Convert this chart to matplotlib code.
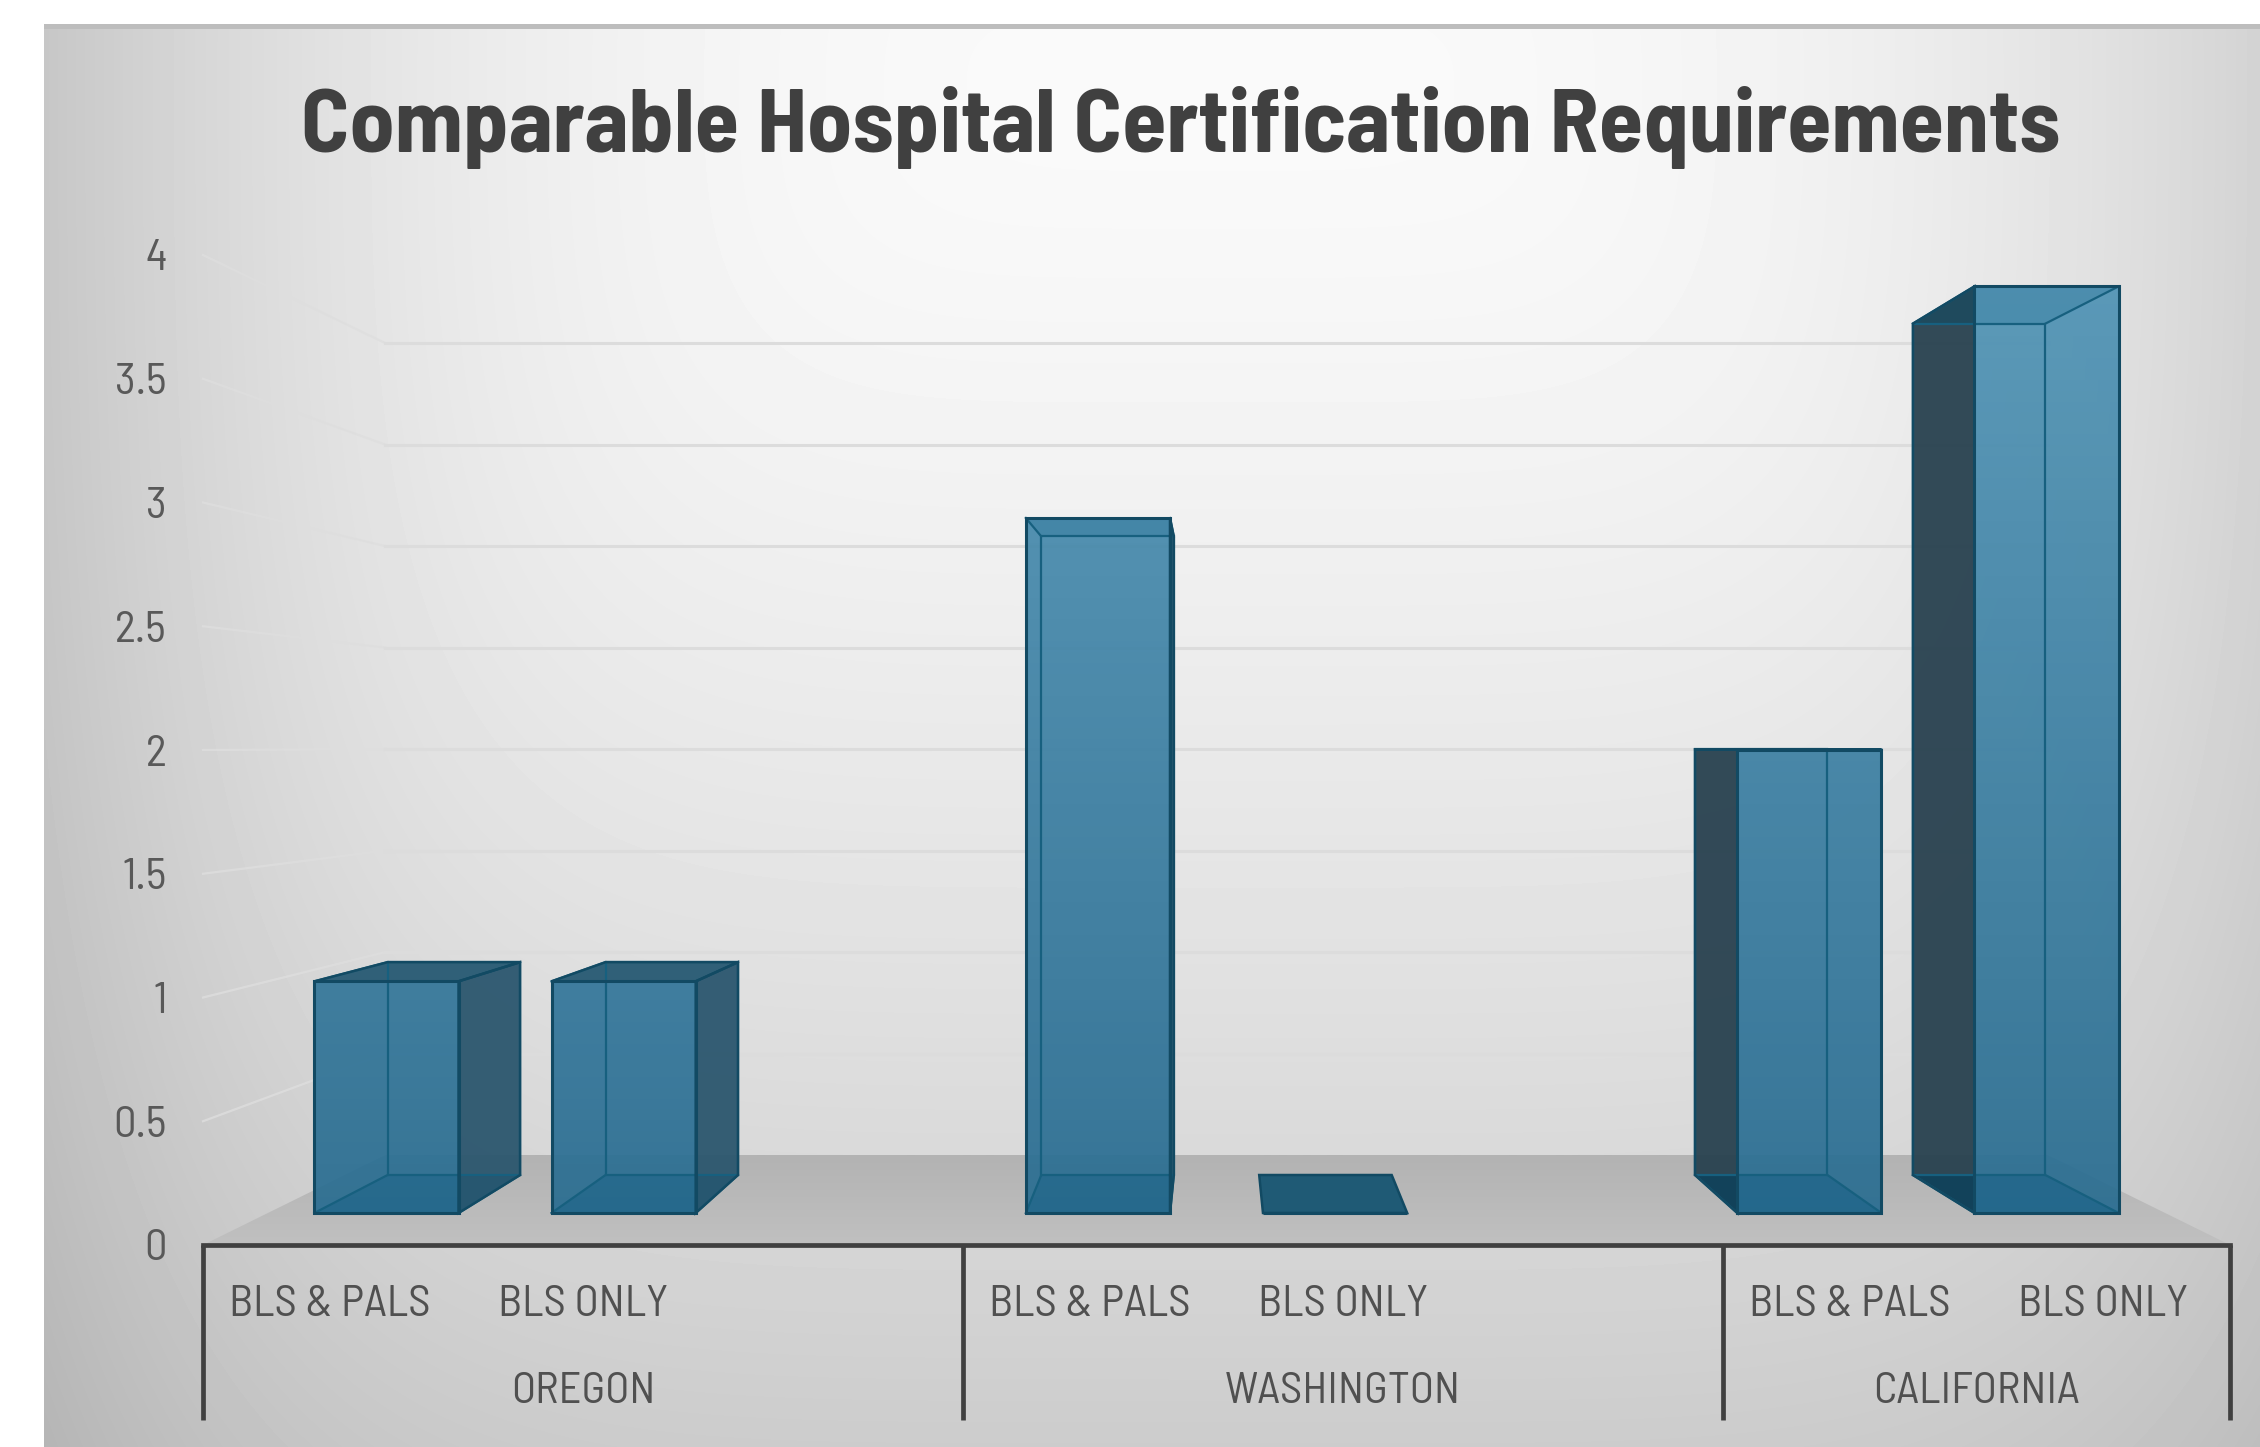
"""
Comparable hospital certification requirements, drawn as a 3D-look column chart
"""

import numpy as np
import matplotlib
matplotlib.use("Agg")
import matplotlib.pyplot as plt
from matplotlib.colors import LinearSegmentedColormap
from matplotlib.patches import Polygon

plt.rcParams["font.family"] = ["Barlow Semi Condensed", "Liberation Sans", "DejaVu Sans"]

title = "Comparable Hospital Certification Requirements"
groups = ["OREGON", "WASHINGTON", "CALIFORNIA"]
group_slots = [3, 3, 2]
categories = ["BLS & PALS", "BLS ONLY"]
values = [1, 1, 3, 0, 2, 4]
bar_slots = [0, 1, 3, 4, 6, 7]
y_ticks = [0, 0.5, 1, 1.5, 2, 2.5, 3, 3.5, 4]

W, H = 2260, 1447
eye_x, eye_y = 4.0, 2.02
wall_k = 0.82
front_k, back_k = 0.936, 0.86
half_w = 0.304


def project(x, v, k):
    # perspective towards the eye point, k=1 is the front of the floor
    return (eye_x + k * (x - eye_x), eye_y + k * (v - eye_y))


fig = plt.figure(figsize=(W / 100, H / 100), dpi=100, facecolor="white")

# slide background
bg = fig.add_axes([44 / W, 0, 1 - 44 / W, 1 - 24 / H], zorder=0)
yy, xx = np.mgrid[24:H, 44:W]
a = np.abs(xx - 1210) / 1186.0
b = np.abs(yy - 90) / 1357.0
shade = 0.98 - np.sqrt((0.21 * a ** 2.6) ** 2 + (0.18 * b ** 1.4) ** 2)
shade[:5, :] = 0.74
bg.imshow(shade, cmap="gray", vmin=0, vmax=1, aspect="auto", interpolation="bilinear")
bg.axis("off")

ax = fig.add_axes([203 / W, (H - 1245) / H, 2027 / W, 990 / H], zorder=1)
ax.patch.set_alpha(0)
n_slots = sum(group_slots)

# floor
floor_pts = [project(0, 0, 1), project(n_slots, 0, 1), project(n_slots, 0, wall_k), project(0, 0, wall_k)]
floor_cm = LinearSegmentedColormap.from_list("floor", ["#c0c0c0", "#b3b3b3"])
floor_im = ax.imshow(np.linspace(0, 1, 50).reshape(-1, 1), cmap=floor_cm, origin="lower",
                     extent=(0, n_slots, 0, project(0, 0, wall_k)[1]), aspect="auto", zorder=1)
floor_im.set_clip_path(Polygon(floor_pts, transform=ax.transData))

# gridlines on the back wall and the left wall
for v in y_ticks[1:]:
    wall = [project(0, v, 1), project(0, v, wall_k)]
    ax.plot([p[0] for p in wall], [p[1] for p in wall], color="#dedede", lw=1.6, alpha=0.8, zorder=2, clip_on=False)
    rear = [project(0, v, wall_k), project(n_slots, v, wall_k)]
    ax.plot([p[0] for p in rear], [p[1] for p in rear], color="#dcdcdc", lw=2.2, zorder=2, clip_on=False)

bar_cm = LinearSegmentedColormap.from_list("bar", ["#276a8e", "#5497b8"])
edge_dark = "#124a63"
edge_in = "#17607f"

for slot, val in zip(bar_slots, values):
    x0, x1 = slot + 0.5 - half_w, slot + 0.5 + half_w
    left_side = slot + 0.5 > eye_x
    side_x = x0 if left_side else x1
    side_col = "#28414f" if left_side else "#2b566e"
    top_col = "#1f4a5e" if left_side else "#2a5c75"
    bottom_col = "#123f56" if left_side else "#2b566e"
    if val == 0:
        top_col = "#1f5a75"
        bottom_col = "#1f5a75"

    front = [project(x0, 0, front_k), project(x1, 0, front_k), project(x1, val, front_k), project(x0, val, front_k)]
    back = [project(x0, 0, back_k), project(x1, 0, back_k), project(x1, val, back_k), project(x0, val, back_k)]
    top = [project(x0, val, front_k), project(x1, val, front_k), project(x1, val, back_k), project(x0, val, back_k)]
    bottom = [project(x0, 0, front_k), project(x1, 0, front_k), project(x1, 0, back_k), project(x0, 0, back_k)]
    side = [project(side_x, 0, front_k), project(side_x, val, front_k), project(side_x, val, back_k), project(side_x, 0, back_k)]

    ax.add_patch(Polygon(side, fc=side_col, ec="none", alpha=0.95, zorder=3))
    ax.add_patch(Polygon(bottom, fc=bottom_col, ec="none", alpha=0.95, zorder=3))
    ax.add_patch(Polygon(top, fc=top_col, ec="none", alpha=0.97, zorder=3))

    if val > 0:
        im = ax.imshow(np.linspace(0, 1, 100).reshape(-1, 1), cmap=bar_cm, origin="lower",
                       extent=(0, n_slots, -0.2, 4.2), aspect="auto", zorder=4, alpha=0.93)
        im.set_clip_path(Polygon(front, transform=ax.transData))
        ax.add_patch(Polygon(bottom, fc="#0f5f85", ec="none", alpha=0.12, zorder=5))
        # back edges seen through the front
        ax.add_patch(Polygon(back, fc="none", ec=edge_in, lw=1.6, zorder=6))
        for i in range(4):
            ax.plot([front[i][0], back[i][0]], [front[i][1], back[i][1]], color=edge_in, lw=1.6, zorder=6)
        ax.add_patch(Polygon(side, fc="none", ec=edge_dark, lw=1.8, zorder=7))

    ax.add_patch(Polygon(front, fc="none", ec=edge_dark, lw=2.2, zorder=7))
    if val < eye_y:
        ax.add_patch(Polygon(top, fc="none", ec=edge_dark, lw=1.8, zorder=7))

ax.set_xlim(0, n_slots)
ax.set_ylim(0, 4)
for s in ["top", "left", "right"]:
    ax.spines[s].set_visible(False)
ax.spines["bottom"].set_color("#404040")
ax.spines["bottom"].set_linewidth(3.4)

ax.set_yticks(y_ticks)
ax.set_yticklabels(["%g" % t for t in y_ticks])
ax.tick_params(axis="y", length=0, pad=26, labelsize=32, labelcolor="#595959")

ax.set_xticks([s + 0.5 for s in bar_slots])
ax.set_xticklabels(categories * 3)
ax.tick_params(axis="x", length=0, pad=29, labelsize=32, labelcolor="#505050")

# multi-level axis separators and group names
edges = np.cumsum([0] + group_slots)
ax.vlines(edges, -0.707, 0, color="#404040", lw=3.4, clip_on=False, zorder=8)
for g, p, q in zip(groups, edges[:-1], edges[1:]):
    ax.text((p + q) / 2, -0.595, g, ha="center", va="center", fontsize=32, color="#505050", clip_on=False)

ax.text(3.86, 4.515, title, ha="center", va="center", fontsize=65, fontweight="bold",
        color="#404040", clip_on=False)

fig.savefig("out.png", dpi=100)
